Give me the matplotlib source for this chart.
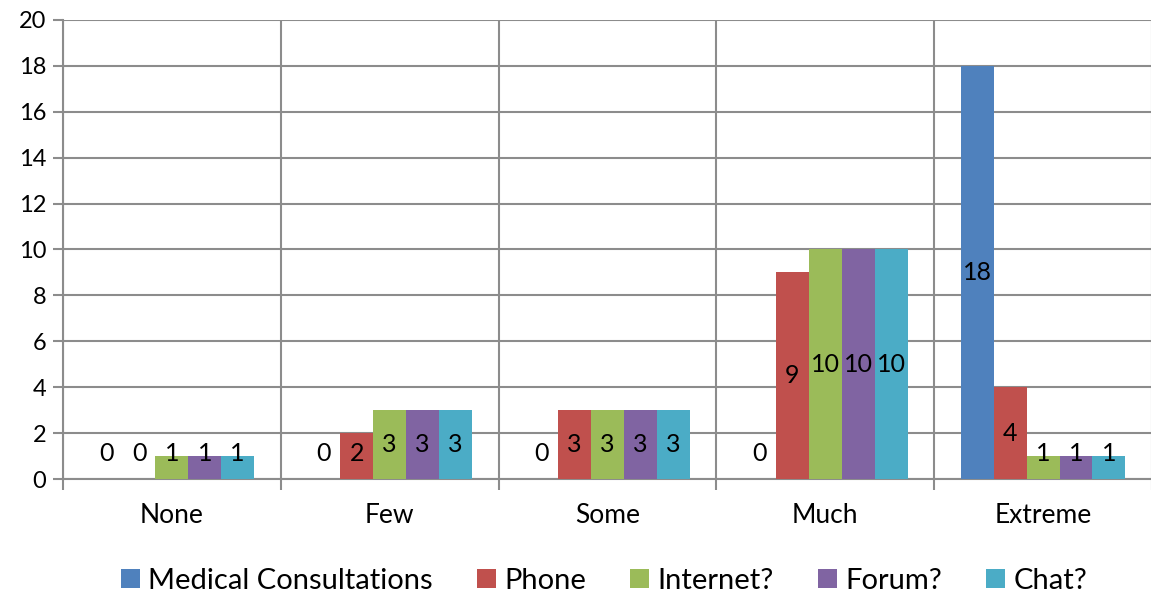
import numpy as np
import matplotlib.pyplot as plt
from matplotlib.patches import Patch

categories = ["None", "Few", "Some", "Much", "Extreme"]
series_names = ["Medical Consultations", "Phone", "Internet?", "Forum?", "Chat?"]
medical = [0, 0, 0, 0, 18]
phone = [0, 2, 3, 9, 4]
internet = [1, 3, 3, 10, 1]
forum = [1, 3, 3, 10, 1]
chat = [1, 3, 3, 10, 1]
colors = ["#4f81bd", "#c0504d", "#9bbb59", "#8064a2", "#4bacc6"]

plt.rcParams["font.family"] = ["Lato", "DejaVu Sans"]

fig = plt.figure(figsize=(11.51, 5.94), dpi=100)
ax = fig.add_axes([63 / 1151, 115 / 594, 1089 / 1151, 459 / 594])

grid_color = "#8c8c8c"
x = np.arange(len(categories))
bar_w = 0.151
all_series = [medical, phone, internet, forum, chat]

for i, (vals, col) in enumerate(zip(all_series, colors)):
    pos = x + (i - 2) * bar_w
    ax.bar(pos, vals, width=bar_w, color=col, edgecolor="none", zorder=3)
    for px, v in zip(pos, vals):
        ax.text(px, max(v / 2, 1.1), str(v), ha="center", va="center",
                fontsize=18, color="black", zorder=4)

ax.set_xlim(-0.5, len(categories) - 0.5)
ax.set_ylim(0, 20)
ax.set_yticks(np.arange(0, 21, 2))
ax.tick_params(axis="y", labelsize=17, length=7, width=1.5, color=grid_color, pad=5)

# category boundaries carry the vertical grid and the tick marks
ax.set_xticks(np.arange(-0.5, len(categories), 1.0))
ax.set_xticklabels([])
ax.set_xticks(x, minor=True)
ax.set_xticklabels(categories, minor=True, fontsize=19)
ax.tick_params(axis="x", which="major", length=8, width=1.5, color=grid_color)
ax.tick_params(axis="x", which="minor", length=0, pad=17)

ax.grid(True, which="major", color=grid_color, linewidth=1.5, zorder=0)
ax.set_axisbelow(True)
for side in ["top", "right"]:
    ax.spines[side].set_visible(False)
for side in ["left", "bottom"]:
    ax.spines[side].set_color(grid_color)
    ax.spines[side].set_linewidth(1.5)

handles = [Patch(facecolor=c, edgecolor="none") for c in colors]
fig.legend(handles, series_names, loc="center", bbox_to_anchor=(604 / 1151, 13 / 594),
           ncol=5, frameon=False, fontsize=21, handlelength=0.65, handleheight=0.65,
           handletextpad=0.3, columnspacing=1.5)

fig.savefig("out.png", dpi=100)
